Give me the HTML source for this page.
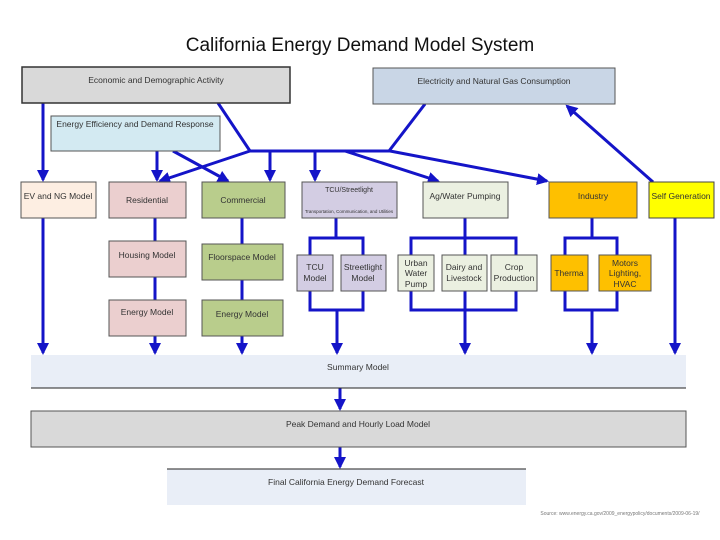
<!DOCTYPE html><html><head><style>body{margin:0;background:#fff}svg{display:block}text{font-family:"Liberation Sans",sans-serif;fill:#333}</style></head><body>
<svg width="720" height="540" viewBox="0 0 720 540" xmlns="http://www.w3.org/2000/svg">
<defs><marker id="b" markerWidth="12" markerHeight="12" refX="10" refY="6" orient="auto" markerUnits="userSpaceOnUse" viewBox="0 0 12 12"><path d="M0,0 L12,6 L0,12 z" fill="#1414c8"/></marker></defs>
<text x="360" y="51" font-size="19" text-anchor="middle" style="fill:#111">California Energy Demand Model System</text>
<g stroke="#1414c8" stroke-width="3" fill="none">
<line x1="248" y1="151" x2="390" y2="151"/>
<line x1="218" y1="103" x2="250" y2="151"/>
<line x1="425" y1="104" x2="389" y2="151"/>
<line x1="43" y1="103" x2="43" y2="180" marker-end="url(#b)"/>
<line x1="157" y1="151" x2="157" y2="180" marker-end="url(#b)"/>
<line x1="173" y1="151" x2="228" y2="181" marker-end="url(#b)"/>
<line x1="250" y1="151" x2="160" y2="181" marker-end="url(#b)"/>
<line x1="270" y1="151" x2="270" y2="180" marker-end="url(#b)"/>
<line x1="315" y1="151" x2="315" y2="180" marker-end="url(#b)"/>
<line x1="345" y1="151" x2="438" y2="181" marker-end="url(#b)"/>
<line x1="390" y1="151" x2="547" y2="181" marker-end="url(#b)"/>
<line x1="653" y1="182" x2="567" y2="106" marker-end="url(#b)"/>
<line x1="43" y1="218" x2="43" y2="353" marker-end="url(#b)"/>
<line x1="155" y1="218" x2="155" y2="353" marker-end="url(#b)"/>
<line x1="242" y1="218" x2="242" y2="353" marker-end="url(#b)"/>
<polyline points="336,218 336,238"/><polyline points="310,255 310,238 363,238 363,255"/>
<polyline points="310,291 310,310 363,310 363,291"/>
<line x1="337" y1="310" x2="337" y2="353" marker-end="url(#b)"/>
<polyline points="465,218 465,238"/><polyline points="411,255 411,238 516,238 516,255"/><line x1="465" y1="238" x2="465" y2="255"/>
<polyline points="411,291 411,310 516,310 516,291"/><line x1="465" y1="291" x2="465" y2="310"/>
<line x1="465" y1="310" x2="465" y2="353" marker-end="url(#b)"/>
<polyline points="592,218 592,238"/><polyline points="565,255 565,238 617,238 617,255"/>
<polyline points="565,291 565,310 617,310 617,291"/>
<line x1="592" y1="310" x2="592" y2="353" marker-end="url(#b)"/>
<line x1="675" y1="218" x2="675" y2="353" marker-end="url(#b)"/>
<line x1="340" y1="388" x2="340" y2="409" marker-end="url(#b)"/>
<line x1="340" y1="447" x2="340" y2="467" marker-end="url(#b)"/>
</g>
<g stroke="#555" stroke-width="1">
<rect x="22" y="67" width="268" height="36" fill="#d9d9d9" stroke="#333" stroke-width="1.5"/>
<rect x="373" y="68" width="242" height="36" fill="#c9d6e6"/>
<rect x="51" y="116" width="169" height="35" fill="#d3eaf2"/>
<rect x="21" y="182" width="75" height="36" fill="#fdeee2"/>
<rect x="109" y="182" width="77" height="36" fill="#ebcfcf"/>
<rect x="202" y="182" width="83" height="36" fill="#b9cd8c"/>
<rect x="302" y="182" width="95" height="36" fill="#d3cde3"/>
<rect x="423" y="182" width="85" height="36" fill="#ebf0e1"/>
<rect x="549" y="182" width="88" height="36" fill="#fec000"/>
<rect x="649" y="182" width="65" height="36" fill="#ffff00" stroke="#444"/>
<rect x="109" y="241" width="77" height="36" fill="#ebcfcf"/>
<rect x="202" y="244" width="81" height="36" fill="#b9cd8c"/>
<rect x="109" y="300" width="77" height="36" fill="#ebcfcf"/>
<rect x="202" y="300" width="81" height="36" fill="#b9cd8c"/>
<rect x="297" y="255" width="36" height="36" fill="#d3cde3"/>
<rect x="341" y="255" width="45" height="36" fill="#d3cde3"/>
<rect x="398" y="255" width="36" height="36" fill="#ebf0e1"/>
<rect x="442" y="255" width="45" height="36" fill="#ebf0e1"/>
<rect x="491" y="255" width="46" height="36" fill="#ebf0e1"/>
<rect x="551" y="255" width="37" height="36" fill="#fec000"/>
<rect x="599" y="255" width="52" height="36" fill="#fec000"/>
<rect x="31" y="355" width="655" height="33" fill="#e9eef7" stroke="none"/>
<line x1="31" y1="388" x2="686" y2="388" stroke="#222"/>
<rect x="31" y="411" width="655" height="36" fill="#d9d9d9"/>
<rect x="167" y="469" width="359" height="36" fill="#e9eef7" stroke="none"/>
<line x1="167" y1="469" x2="526" y2="469" stroke="#222"/>
</g>
<g font-size="8.5" text-anchor="middle">
<text x="156" y="83">Economic and Demographic Activity</text>
<text x="494" y="84">Electricity and Natural Gas Consumption</text>
<text x="135" y="127">Energy Efficiency and Demand Response</text>
<text x="58" y="199">EV and NG Model</text>
<text x="147" y="203">Residential</text>
<text x="243" y="203">Commercial</text>
<text x="349" y="192" font-size="7">TCU/Streetlight</text>
<text x="349" y="213" font-size="4.5">Transportation, Communication, and Utilities</text>
<text x="465" y="199">Ag/Water Pumping</text>
<text x="593" y="199">Industry</text>
<text x="681" y="199">Self Generation</text>
<text x="147" y="258">Housing Model</text>
<text x="242" y="260">Floorspace Model</text>
<text x="147" y="315">Energy Model</text>
<text x="242" y="317">Energy Model</text>
<text x="315" y="270">TCU</text><text x="315" y="281">Model</text>
<text x="363" y="270">Streetlight</text><text x="363" y="281">Model</text>
<text x="416" y="266">Urban</text><text x="416" y="276">Water</text><text x="416" y="287">Pump</text>
<text x="464" y="270">Dairy and</text><text x="464" y="281">Livestock</text>
<text x="514" y="270">Crop</text><text x="514" y="281">Production</text>
<text x="569" y="276">Therma</text>
<text x="625" y="266">Motors</text><text x="625" y="276">Lighting,</text><text x="625" y="287">HVAC</text>
<text x="358" y="370">Summary Model</text>
<text x="358" y="427">Peak Demand and Hourly Load Model</text>
<text x="346" y="485">Final California Energy Demand Forecast</text>
<text x="620" y="515" font-size="5" style="fill:#777">Source: www.energy.ca.gov/2009_energypolicy/documents/2009-06-19/</text>
</g>
</svg></body></html>
